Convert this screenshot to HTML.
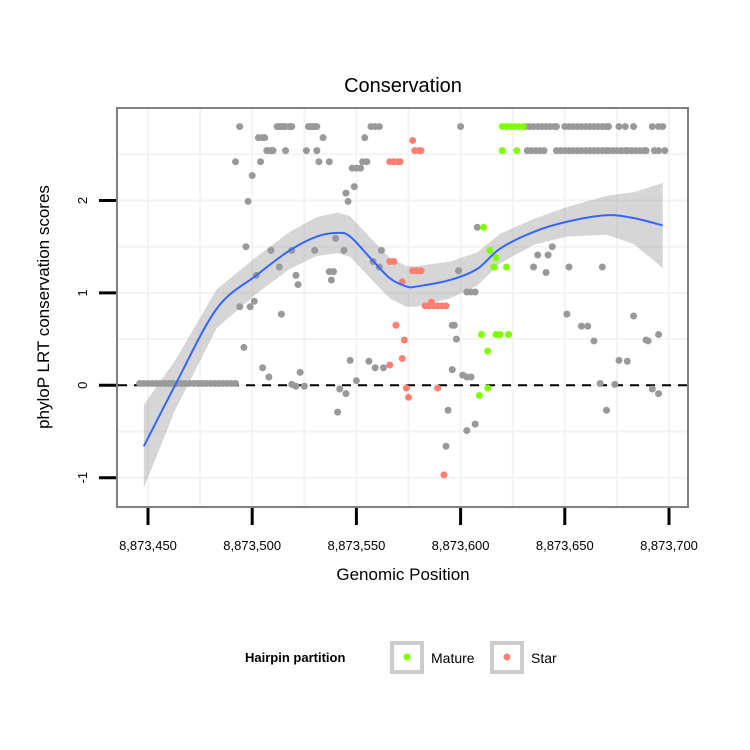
<!DOCTYPE html>
<html><head><meta charset="utf-8"><style>
html,body{margin:0;padding:0;background:#fff;}
svg{display:block;font-family:"Liberation Sans",sans-serif;}
</style></head><body>
<svg id="chart" width="750" height="750" viewBox="0 0 750 750">
<rect x="0" y="0" width="750" height="750" fill="#fff"/>
<text x="403" y="92" font-size="20" text-anchor="middle">Conservation</text>
<g id="grid"></g>
<g id="band"></g>
<line id="zeroline" stroke="#000" stroke-width="2" stroke-dasharray="9,7"/>
<g id="points"></g>
<g id="smooth"></g>
<rect x="117" y="108" width="571" height="399" fill="none" stroke="#808080" stroke-width="2"/>
<g id="xaxis"></g>
<g id="yaxis"></g>
<text x="403" y="580" font-size="17" text-anchor="middle">Genomic Position</text>
<text transform="translate(49,307) rotate(-90)" font-size="17" text-anchor="middle">phyloP LRT conservation scores</text>
<g>
<text x="245" y="662" font-size="13" font-weight="bold">Hairpin partition</text>
<g>
<rect x="392" y="643" width="30" height="29" fill="#fff" stroke="#cccccc" stroke-width="4"/>
<circle cx="407" cy="657" r="3.5" fill="#7fff00"/>
<text x="431" y="663" font-size="14">Mature</text>
</g>
<g>
<rect x="492" y="643" width="30" height="29" fill="#fff" stroke="#cccccc" stroke-width="4"/>
<circle cx="507" cy="657" r="3.5" fill="#fa8072"/>
<text x="531" y="663" font-size="14">Star</text>
</g>
</g>
</svg>
<script>
const xTicks = [8873450, 8873500, 8873550, 8873600, 8873650, 8873700];
const xTickLabels = ["8,873,450", "8,873,500", "8,873,550", "8,873,600", "8,873,650", "8,873,700"];
const yTicks = [-1, 0, 1, 2];
const yTickLabels = ["-1", "0", "1", "2"];
const grayPos = [8873446,8873448,8873450,8873452,8873454,8873456,8873458,8873460,8873462,8873464,8873466,8873468,8873470,8873472,8873474,8873476,8873478,8873480,8873482,8873484,8873486,8873488,8873490,8873492,
8873494,8873512,8873513,8873514,8873515,8873516,8873518,8873519,8873527,8873528,8873529,8873530,8873531,8873557,8873559,8873561,8873600,
8873631,8873633,8873635,8873637,8873639,8873641,8873643,8873645,8873646,8873650,8873652,8873654,8873656,8873658,8873660,8873662,8873664,8873666,8873668,8873670,8873671,8873676,8873679,8873683,8873692,8873695,8873697,
8873503,8873505,8873506,8873534,8873554,
8873507,8873508,8873509,8873510,8873516,8873526,8873531,8873632,8873634,8873636,8873638,8873640,8873646,8873648,8873650,8873652,8873654,8873656,8873658,8873660,8873662,8873664,8873666,8873668,8873670,8873671,8873673,8873675,8873677,8873679,8873680,8873682,8873684,8873686,8873688,8873689,8873693,8873695,8873698,
8873492,8873504,8873532,8873537,8873553,8873555,
8873548,8873550,8873552,8873500,8873549,8873545,8873498,8873546,8873608,8873540,8873497,8873644,
8873509,8873519,8873530,8873544,8873562,8873637,8873642,8873558,
8873513,8873561,8873635,8873652,8873668,8873599,8873537,8873539,8873641,8873502,8873521,8873538,8873522,
8873603,8873605,8873607,8873501,8873494,8873499,8873514,8873651,8873683,8873596,8873597,8873658,8873661,8873695,8873598,8873689,8873690,8873664,
8873496,8873547,8873676,8873680,8873556,8873559,8873563,8873505,8873596,8873523,8873601,8873603,8873605,8873508,8873550,8873667,8873674,
8873519,8873521,8873525,8873542,8873692,8873695,8873545,8873594,8873670,8873541,8873607,8873603,8873593];
const grayScore = [0.02,0.02,0.02,0.02,0.02,0.02,0.02,0.02,0.02,0.02,0.02,0.02,0.02,0.02,0.02,0.02,0.02,0.02,0.02,0.02,0.02,0.02,0.02,0.02,
2.80,2.80,2.80,2.80,2.80,2.80,2.80,2.80,2.80,2.80,2.80,2.80,2.80,2.80,2.80,2.80,2.80,
2.80,2.80,2.80,2.80,2.80,2.80,2.80,2.80,2.80,2.80,2.80,2.80,2.80,2.80,2.80,2.80,2.80,2.80,2.80,2.80,2.80,2.80,2.80,2.80,2.80,2.80,2.80,
2.68,2.68,2.68,2.68,2.68,
2.54,2.54,2.54,2.54,2.54,2.54,2.54,2.54,2.54,2.54,2.54,2.54,2.54,2.54,2.54,2.54,2.54,2.54,2.54,2.54,2.54,2.54,2.54,2.54,2.54,2.54,2.54,2.54,2.54,2.54,2.54,2.54,2.54,2.54,2.54,2.54,2.54,2.54,2.54,
2.42,2.42,2.42,2.42,2.42,2.42,
2.35,2.35,2.35,2.27,2.15,2.08,1.99,1.99,1.71,1.59,1.50,1.50,
1.46,1.46,1.46,1.46,1.46,1.41,1.41,1.34,
1.28,1.28,1.28,1.28,1.28,1.24,1.23,1.23,1.22,1.19,1.19,1.14,1.09,
1.01,1.01,1.01,0.91,0.85,0.85,0.77,0.77,0.75,0.65,0.65,0.64,0.64,0.55,0.50,0.49,0.48,0.48,
0.41,0.27,0.27,0.26,0.26,0.19,0.19,0.19,0.17,0.14,0.11,0.09,0.09,0.09,0.05,0.02,0.01,
0.01,-0.01,-0.01,-0.04,-0.04,-0.09,-0.09,-0.27,-0.27,-0.29,-0.42,-0.49,-0.66,-0.90];
const maturePos = [8873620,8873622,8873624,8873626,8873628,8873630,8873620,8873627,8873611,8873614,8873617,8873616,8873622,8873610,8873617,8873619,8873623,8873613,8873613,8873609];
const matureScore = [2.80,2.80,2.80,2.80,2.80,2.80,2.54,2.54,1.71,1.46,1.38,1.28,1.28,0.55,0.55,0.55,0.55,0.37,-0.03,-0.11];
const starPos = [8873577,8873578,8873580,8873581,8873566,8873568,8873570,8873571,8873566,8873568,8873577,8873579,8873581,8873572,8873583,8873585,8873587,8873589,8873591,8873593,8873586,8873569,8873573,8873572,8873566,8873574,8873589,8873575,8873592];
const starScore = [2.65,2.54,2.54,2.54,2.42,2.42,2.42,2.42,1.34,1.34,1.24,1.24,1.24,1.12,0.86,0.86,0.86,0.86,0.86,0.86,0.90,0.65,0.49,0.29,0.22,-0.03,-0.03,-0.13,-0.97];
const smoothPos = [8873448,8873463,8873483,8873502,8873518,8873531,8873541,8873547,8873557,8873566,8873574,8873579,8873595,8873608,8873619,8873635,8873651,8873670,8873683,8873697];
const smoothFit = [-0.66,0.00,0.83,1.19,1.46,1.61,1.65,1.61,1.37,1.16,1.07,1.07,1.14,1.26,1.48,1.66,1.77,1.84,1.81,1.73];
const smoothSe = [0.45,0.27,0.21,0.20,0.20,0.21,0.22,0.22,0.22,0.22,0.22,0.22,0.20,0.18,0.16,0.14,0.16,0.21,0.28,0.46];

const NS = "http://www.w3.org/2000/svg";
const X0 = 148, XK = 2.084, Y0 = 385.3, YK = 92.4;
function xs(v){ return X0 + (v - 8873450) * XK; }
function ys(v){ return Y0 - v * YK; }
function mk(tag, attrs, parent){ const e = document.createElementNS(NS, tag); for (const k in attrs) e.setAttribute(k, attrs[k]); parent.appendChild(e); return e; }

const grid = document.getElementById('grid');
for (let v = 8873450; v <= 8873700; v += 25) {
  const gl = mk('line', {x1: xs(v), x2: xs(v), y1: 109, y2: 506, stroke: '#f3f3f3', 'stroke-width': 2}, grid);
  
  
}
for (let v = -1; v <= 2.5; v += 0.5) {
  const gl = mk('line', {x1: 118, x2: 687, y1: ys(v), y2: ys(v), stroke: '#f3f3f3', 'stroke-width': 2}, grid);
  
  
}

const zl = document.getElementById('zeroline');
zl.setAttribute('x1', 118); zl.setAttribute('x2', 687);
zl.setAttribute('y1', ys(0)); zl.setAttribute('y2', ys(0));

let up = [], lo = [];
for (let i = 0; i < smoothPos.length; i++) {
  up.push(xs(smoothPos[i]) + ',' + ys(smoothFit[i] + smoothSe[i]));
  lo.unshift(xs(smoothPos[i]) + ',' + ys(smoothFit[i] - smoothSe[i]));
}
const band = mk('polygon', {points: up.concat(lo).join(' '), fill: '#999999', 'fill-opacity': 0.4}, document.getElementById('band'));



const pts = document.getElementById('points');
function drawSeries(pos, score, color, name){
  for (let i = 0; i < pos.length; i++) {
    const c = mk('circle', {cx: xs(pos[i]), cy: ys(score[i]), r: 3.5, fill: color}, pts);
    
    
  }
}
drawSeries(grayPos, grayScore, '#999999', 'point-other');
drawSeries(maturePos, matureScore, '#7fff00', 'point-mature');
drawSeries(starPos, starScore, '#fa8072', 'point-star');

const P = smoothPos.map((p, i) => [xs(p), ys(smoothFit[i])]);
let d = 'M' + P[0][0] + ',' + P[0][1];
for (let i = 0; i < P.length - 1; i++) {
  const p0 = P[Math.max(0, i - 1)], p1 = P[i], p2 = P[i + 1], p3 = P[Math.min(P.length - 1, i + 2)];
  d += ' C' + (p1[0] + (p2[0] - p0[0]) / 6) + ',' + (p1[1] + (p2[1] - p0[1]) / 6) + ' ' + (p2[0] - (p3[0] - p1[0]) / 6) + ',' + (p2[1] - (p3[1] - p1[1]) / 6) + ' ' + p2[0] + ',' + p2[1];
}
const sl = mk('path', {d: d, fill: 'none', stroke: '#3366ff', 'stroke-width': 2}, document.getElementById('smooth'));



const xa = document.getElementById('xaxis');
xTicks.forEach((v, i) => {
  const t = mk('line', {x1: xs(v), x2: xs(v), y1: 508, y2: 525, stroke: '#000', 'stroke-width': 3}, xa);
  
  
  const l = mk('text', {x: xs(v), y: 550, 'font-size': 13, 'text-anchor': 'middle'}, xa);
  l.textContent = xTickLabels[i];
  
  
});
const ya = document.getElementById('yaxis');
yTicks.forEach((v, i) => {
  const t = mk('line', {x1: 99, x2: 116, y1: ys(v), y2: ys(v), stroke: '#000', 'stroke-width': 3}, ya);
  
  
  const l = mk('text', {transform: 'translate(87,' + ys(v) + ') rotate(-90)', 'font-size': 13, 'text-anchor': 'middle'}, ya);
  l.textContent = yTickLabels[i];
  
  
});
</script>
</body></html>
